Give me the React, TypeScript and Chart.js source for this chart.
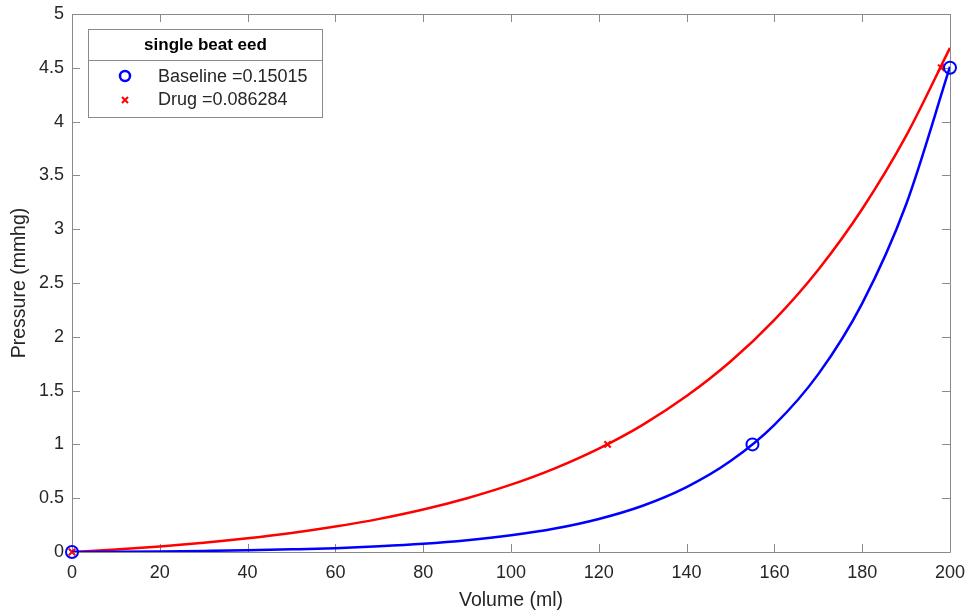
import React, { useEffect, useRef } from "react";
import { Chart, registerables } from "chart.js";

Chart.register(...registerables);

const volumes = [0, 10, 20, 30, 40, 50, 60, 70, 80, 90, 100, 110, 120, 130, 140, 150, 160, 170, 180, 190, 200];
const baselineCurve = [0, 0.002, 0.005, 0.01, 0.016, 0.025, 0.036, 0.053, 0.076, 0.109, 0.155, 0.218, 0.307, 0.43, 0.603, 0.845, 1.182, 1.653, 2.311, 3.23, 4.51];
const drugCurve = [0, 0.023, 0.052, 0.086, 0.127, 0.176, 0.236, 0.308, 0.395, 0.5, 0.626, 0.778, 0.961, 1.182, 1.449, 1.77, 2.158, 2.624, 3.188, 3.867, 4.685];

const baselinePtsX = [0, 155, 200];
const baselinePtsY = [0, 1, 4.5];
const drugPtsX = [0, 122, 198];
const drugPtsY = [0, 1, 4.5];

const legendTitle = "single beat eed";
const legendLabels = ["Baseline =0.15015", "Drug =0.086284"];
const xTitle = "Volume (ml)";
const yTitle = "Pressure (mmhg)";
const xTicks = [0, 20, 40, 60, 80, 100, 120, 140, 160, 180, 200];
const yTicks = [0, 0.5, 1, 1.5, 2, 2.5, 3, 3.5, 4, 4.5, 5];

const FONT = "'Liberation Sans', Arial, Helvetica, sans-serif";
const AXIS = "#8a8a8a";
const TEXT = "#262626";

export default function App() {
  const ref = useRef<HTMLCanvasElement | null>(null);

  useEffect(() => {
    document.body.style.margin = "0";
    const canvas = ref.current!;
    const toPts = (xs: number[], ys: number[]) => xs.map((x, i) => ({ x, y: ys[i] }));

    const framePlugin = {
      id: "frame",
      beforeDatasetsDraw(chart: any) {
        const { ctx, chartArea: a, scales } = chart;
        ctx.save();
        ctx.strokeStyle = AXIS;
        ctx.lineWidth = 1;
        ctx.beginPath();
        ctx.rect(a.left + 0.5, a.top + 0.5, a.right - a.left, a.bottom - a.top);
        ctx.stroke();
        const L = 8;
        ctx.beginPath();
        xTicks.forEach((v) => {
          const px = Math.round(scales.x.getPixelForValue(v)) + 0.5;
          ctx.moveTo(px, a.bottom);
          ctx.lineTo(px, a.bottom - L);
          ctx.moveTo(px, a.top);
          ctx.lineTo(px, a.top + L);
        });
        yTicks.forEach((v) => {
          const py = Math.round(scales.y.getPixelForValue(v)) + 0.5;
          ctx.moveTo(a.left, py);
          ctx.lineTo(a.left + L, py);
          ctx.moveTo(a.right, py);
          ctx.lineTo(a.right - L, py);
        });
        ctx.stroke();
        ctx.restore();
      },
      afterDraw(chart: any) {
        const { ctx } = chart;
        const bx = 88.5, by = 29.5, bw = 234, bh = 88, sep = 60.5;
        ctx.save();
        ctx.fillStyle = "#ffffff";
        ctx.fillRect(bx, by, bw, bh);
        ctx.strokeStyle = AXIS;
        ctx.lineWidth = 1;
        ctx.strokeRect(bx, by, bw, bh);
        ctx.beginPath();
        ctx.moveTo(bx, sep);
        ctx.lineTo(bx + bw, sep);
        ctx.stroke();
        ctx.fillStyle = "#000";
        ctx.font = `bold 17px ${FONT}`;
        ctx.textAlign = "center";
        ctx.textBaseline = "middle";
        ctx.fillText(legendTitle, bx + bw / 2, 45);
        ctx.font = `18px ${FONT}`;
        ctx.textAlign = "left";
        ctx.fillStyle = TEXT;
        ctx.fillText(legendLabels[0], 158, 77);
        ctx.fillText(legendLabels[1], 158, 100);
        // markers
        ctx.strokeStyle = "#0000ff";
        ctx.lineWidth = 2.5;
        ctx.beginPath();
        ctx.arc(125, 76, 5, 0, Math.PI * 2);
        ctx.stroke();
        ctx.strokeStyle = "#ff0000";
        ctx.lineWidth = 2;
        ctx.beginPath();
        ctx.moveTo(122, 97);
        ctx.lineTo(128, 103);
        ctx.moveTo(128, 97);
        ctx.lineTo(122, 103);
        ctx.stroke();
        ctx.restore();
      },
    };

    const noPad = (s: any) => {
      s.paddingLeft = 0;
      s.paddingRight = 0;
      s.paddingTop = 0;
      s.paddingBottom = 0;
    };

    const chart = new Chart(canvas, {
      type: "scatter",
      data: {
        datasets: [
          {
            label: "Baseline curve",
            data: toPts(volumes, baselineCurve),
            showLine: true,
            borderColor: "#0000ff",
            borderWidth: 2.5,
            pointRadius: 0,
            cubicInterpolationMode: "monotone",
          },
          {
            label: "Baseline",
            data: toPts(baselinePtsX, baselinePtsY),
            showLine: false,
            borderColor: "#0000ff",
            backgroundColor: "rgba(0,0,0,0)",
            pointStyle: "circle",
            pointRadius: 6,
            pointBorderWidth: 2,
            clip: false,
          },
          {
            label: "Drug curve",
            data: toPts(volumes, drugCurve),
            showLine: true,
            borderColor: "#ff0000",
            borderWidth: 2.5,
            pointRadius: 0,
            cubicInterpolationMode: "monotone",
          },
          {
            label: "Drug",
            data: toPts(drugPtsX, drugPtsY),
            showLine: false,
            borderColor: "#ff0000",
            backgroundColor: "#ff0000",
            pointStyle: "crossRot",
            pointRadius: 4.5,
            pointBorderWidth: 2,
            clip: false,
          },
        ] as any,
      },
      options: {
        animation: false,
        responsive: false,
        maintainAspectRatio: false,
        layout: { padding: { top: 14, right: 18, left: 0, bottom: 0 } },
        plugins: { legend: { display: false }, tooltip: { enabled: false } },
        scales: {
          x: {
            type: "linear",
            min: 0,
            max: 200,
            afterBuildTicks: (s: any) => {
              s.ticks = xTicks.map((v) => ({ value: v }));
            },
            afterFit: (s: any) => {
              s.height = 60;
              noPad(s);
            },
            grid: { display: false, drawTicks: false },
            border: { display: false },
            ticks: {
              color: TEXT,
              font: { family: FONT, size: 18 },
              padding: 10,
              maxRotation: 0,
              callback: (v: any) => String(v),
            },
            title: { display: true, text: xTitle, color: TEXT, font: { family: FONT, size: 19.5 }, padding: { top: 0, bottom: 0 } },
          },
          y: {
            type: "linear",
            min: 0,
            max: 5,
            afterBuildTicks: (s: any) => {
              s.ticks = yTicks.map((v) => ({ value: v }));
            },
            afterFit: (s: any) => {
              s.width = 72;
              noPad(s);
            },
            grid: { display: false, drawTicks: false },
            border: { display: false },
            ticks: { color: TEXT, font: { family: FONT, size: 18 }, padding: 8, callback: (v: any) => String(v) },
            title: { display: true, text: yTitle, color: TEXT, font: { family: FONT, size: 19.5 }, padding: { top: 8, bottom: 0 } },
          },
        },
      } as any,
      plugins: [framePlugin],
    });
    return () => chart.destroy();
  }, []);

  return (
    <div style={{ width: 968, height: 612 }}>
      <canvas ref={ref} width={968} height={612} style={{ display: "block" }} />
    </div>
  );
}
